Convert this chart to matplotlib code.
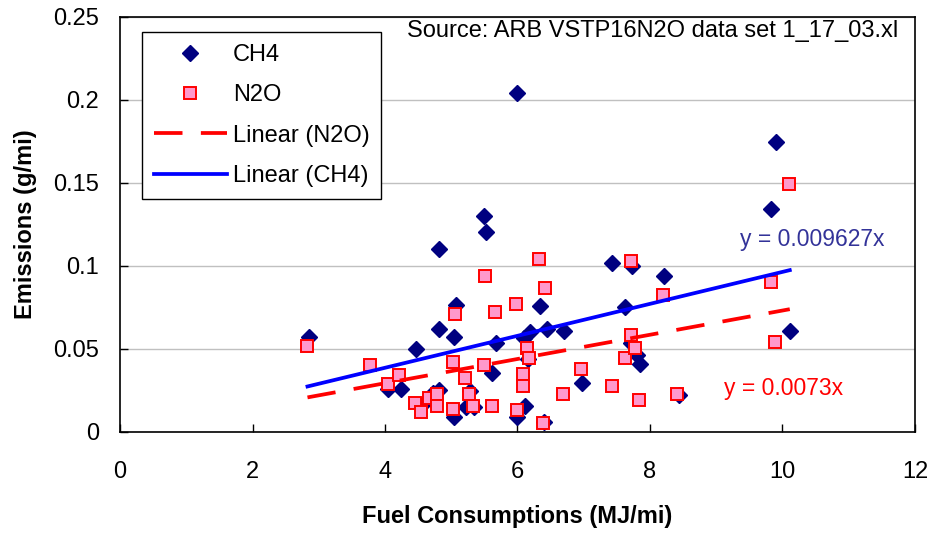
import matplotlib
matplotlib.use("Agg")
import matplotlib.pyplot as plt
from matplotlib.lines import Line2D

plt.rcParams["font.family"] = ["Liberation Sans", "DejaVu Sans"]

# CH4 emissions (g/mi) vs fuel consumption (MJ/mi)
ch4_x = [2.85, 4.05, 4.24, 4.47, 4.57, 4.72, 4.82, 4.81, 4.81, 5.04, 5.04, 5.07,
         5.22, 5.29, 5.35, 5.49, 5.53, 5.62, 5.68, 5.99, 6.00, 6.10, 6.11, 6.16,
         6.19, 6.34, 6.40, 6.44, 6.70, 6.98, 7.43, 7.63, 7.73, 7.71, 7.80, 7.85,
         8.21, 8.44, 9.83, 9.90, 10.11]
ch4_y = [0.057, 0.0256, 0.026, 0.050, 0.0166, 0.0236, 0.0254, 0.062, 0.110, 0.057, 0.0090, 0.0766,
         0.0150, 0.0245, 0.0146, 0.130, 0.1206, 0.0352, 0.0535, 0.204, 0.0086, 0.0566, 0.0152, 0.0436,
         0.060, 0.076, 0.006, 0.062, 0.0606, 0.0296, 0.1016, 0.075, 0.100, 0.0536, 0.046, 0.041,
         0.094, 0.022, 0.134, 0.1746, 0.0606]

# N2O emissions (g/mi)
n2o_x = [2.83, 3.77, 4.04, 4.21, 4.46, 4.55, 4.66, 4.79, 4.79, 5.02, 5.02, 5.06,
         5.21, 5.27, 5.33, 5.49, 5.51, 5.61, 5.66, 5.98, 6.00, 6.09, 6.09, 6.15,
         6.17, 6.33, 6.39, 6.42, 6.69, 6.96, 7.42, 7.62, 7.71, 7.72, 7.77, 7.83,
         8.20, 8.41, 9.82, 9.88, 10.10]
n2o_y = [0.0516, 0.040, 0.029, 0.034, 0.017, 0.012, 0.0206, 0.023, 0.0155, 0.0136, 0.042, 0.0712,
         0.0326, 0.023, 0.0155, 0.040, 0.0936, 0.0155, 0.0722, 0.077, 0.013, 0.035, 0.0276, 0.0506,
         0.0446, 0.104, 0.0052, 0.0866, 0.023, 0.0376, 0.0276, 0.0446, 0.058, 0.103, 0.0506, 0.019,
         0.0824, 0.023, 0.090, 0.054, 0.149]

# trendlines through the origin (slopes from the chart labels)
ch4_slope = 0.009627
n2o_slope = 0.0073
fit_x = [min(n2o_x + ch4_x), max(n2o_x + ch4_x)]

x_ticks = [0, 2, 4, 6, 8, 10, 12]
y_ticks = [0, 0.05, 0.1, 0.15, 0.2, 0.25]
y_tick_labels = ["0", "0.05", "0.1", "0.15", "0.2", "0.25"]

DASH = (0, (7.6, 4.9))

fig = plt.figure(figsize=(9.35, 5.34), dpi=100)
ax = fig.add_axes([120 / 935, 1 - 431.7 / 534, 795 / 935, 415 / 534])

ax.grid(axis="y", color="#c0c0c0", lw=1.0)
ax.set_axisbelow(True)

ax.plot(ch4_x, ch4_y, "D", ms=7.8, color="#000080", mec="#000080", zorder=3)
ax.plot(n2o_x, n2o_y, "s", ms=8, mfc="#ff99cc", mec="#ff0000", mew=1.4, zorder=4)
ax.plot(fit_x, [n2o_slope * v for v in fit_x], color="#ff0000", lw=2.7, ls=DASH, zorder=5)
ax.plot(fit_x, [ch4_slope * v for v in fit_x], color="#0000ff", lw=2.7, zorder=5)

ax.set_xlim(0, 12)
ax.set_ylim(0, 0.25)
ax.set_xticks(x_ticks)
ax.set_yticks(y_ticks)
ax.set_yticklabels(y_tick_labels)
ax.tick_params(direction="in", length=6, width=1, labelsize=17, colors="black")
ax.tick_params(axis="y", pad=15)
ax.tick_params(axis="x", pad=21)
for s in ax.spines.values():
    s.set_linewidth(1.2)
    s.set_color("black")

ax.set_xlabel("Fuel Consumptions (MJ/mi)", fontsize=17, fontweight="bold", labelpad=16)
ax.set_ylabel("Emissions (g/mi)", fontsize=17, fontweight="bold", labelpad=12)

ax.text(9.36, 0.1155, "y = 0.009627x", color="#333399", fontsize=16.5, va="center")
ax.text(9.12, 0.0263, "y = 0.0073x", color="#ff0000", fontsize=16.5, va="center")
ax.text(0.979, 0.9655, "Source: ARB VSTP16N2O data set 1_17_03.xl", transform=ax.transAxes,
        fontsize=17, ha="right", va="center")

handles = [
    Line2D([], [], ls="none", marker="D", ms=7.8, color="#000080"),
    Line2D([], [], ls="none", marker="s", ms=8, mfc="#ff99cc", mec="#ff0000", mew=1.4),
    Line2D([], [], color="#ff0000", lw=2.7, ls=DASH),
    Line2D([], [], color="#0000ff", lw=2.7),
]
labels = ["CH4", "N2O", "Linear (N2O)", "Linear (CH4)"]
leg = ax.legend(handles, labels, loc="upper left", bbox_to_anchor=(142 / 935, 1 - 32 / 534),
                bbox_transform=fig.transFigure, borderaxespad=0, fontsize=17,
                fancybox=False, framealpha=1, edgecolor="black", borderpad=0.5,
                labelspacing=0.78, handlelength=3.1, handletextpad=0.25, numpoints=1)
leg.get_frame().set_linewidth(1.0)

fig.savefig("out.png", dpi=100)
